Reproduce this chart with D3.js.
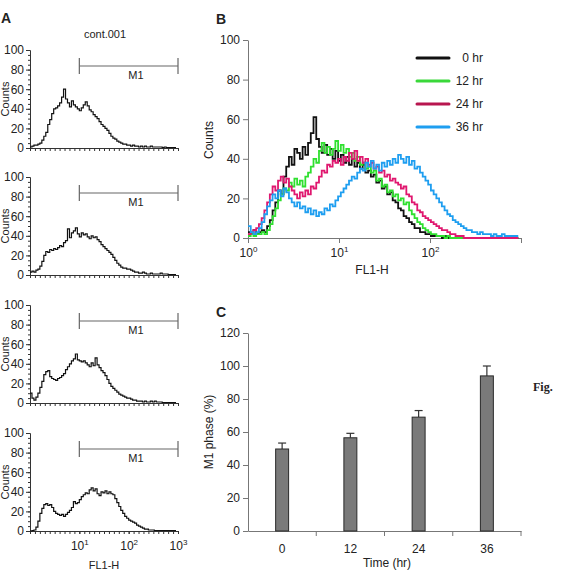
<!DOCTYPE html>
<html>
<head>
<meta charset="utf-8">
<script src="https://d3js.org/d3.v7.min.js"></script>
<style>
  body { margin: 0; background: #fff; }
  svg { display: block; font-family: Arial, "Liberation Sans", sans-serif; }
</style>
</head>
<body>
<svg width="565" height="574"></svg>
<script>
  // ---- data ----
  // panel A: counts per FL1-H channel, one channel every 0.04 decade from 10^0
  const stepA = 0.04;
  const histA1 = [1,2,3,3,4,5,8,12,16,24, 29,35,40,41,43,46,52,60,50,46, 42,48,44,42,40,38,41,44,47,43,
    39,37,34,32,30,27,24,22,20,18, 15,12,10,9,7,6,5,4,4,3, 3,2,3,2,2,1,2,1,2,1, 1,2,1,1,1,1,1,0.5,1,0.5, 0.5,0.5,0.5,0.5,0.5];
  const histA2 = [3,4,3,5,6,9,14,20,24,23, 26,25,27,26,28,30,29,33,35,47, 38,43,45,48,42,39,43,41,42,39,
    37,40,38,39,36,34,31,29,27,25, 23,21,18,15,12,10,8,7,7,6, 6,5,4,3,3,2,2,3,2,1, 1,2,1,1,1,1,2,1,1,1, 0.5,0.5,0.5,0.5,0.5];
  const histA3 = [10,5,3,6,10,16,22,29,32,33, 27,25,24,23,25,26,28,30,34,37, 40,43,45,50,44,43,42,43,41,39,
    37,41,38,46,39,36,33,31,28,24, 20,17,15,13,11,9,8,7,6,5, 5,4,3,3,2,2,2,1,2,1, 1,2,1,2,1,1,1,0.5,0.5,0.5, 0.5,0.5,0.5,0.5,0.5];
  const histA4 = [0,0.5,1,4,10,18,23,27,28,26, 27,24,20,18,17,16,17,15,17,19, 21,24,30,28,29,32,35,37,39,38,
    42,44,41,43,38,36,40,39,41,38, 40,38,37,33,29,25,21,18,15,13, 11,10,9,8,6,5,4,3,2,2, 1,1,1,0.5,0.5,0.5,0.5,0.5,0.5,0.5, 0.5,0.5,0.5,0.5,0.5];
  const titleA = "cont.001";
  const gateM1 = [10, 1000];

  // panel B: overlay, one channel every 0.03 decade
  const stepB = 0.03;
  const histB0 = [3,2,4,2,3,4,3,6,9,14, 18,24,22,31,36,41,37,45,43,40, 46,42,48,53,61,50,46,43,47,42,
    45,40,44,39,42,38,41,37,40,36, 38,35,37,33,34,31,32,28,29,25, 26,22,23,19,18,15,14,11,10,8,
    7,5,5,3,3,2,2,1,1,1, 1,0,1,0,0,0,0,0,0,0, 0,0,0,0,0,0,0,0,0,0, 0,0,0,0,0,0,0,0,0,0];
  const histB12 = [1,2,1,2,2,3,2,4,7,11, 15,19,22,25,24,28,26,30,27,29, 26,31,33,36,40,38,44,48,43,46,
    42,45,49,44,47,43,45,41,43,39, 41,37,38,35,36,33,34,29,30,26, 27,23,24,21,22,19,20,17,18,14,
    12,10,8,7,5,4,3,2,2,1, 1,1,0,1,0,0,0,0,0,0, 0,0,0,0,0,0,0,0,0,0, 0,0,0,0,0,0,0,0,0,0];
  const histB24 = [2,3,4,5,7,10,14,18,22,26, 24,29,31,28,30,26,24,22,20,23, 21,24,22,26,25,28,31,34,33,37,
    36,39,38,40,37,41,39,43,40,44, 39,41,38,40,37,38,35,36,33,34, 31,32,29,30,28,27,25,26,22,21,
    18,17,14,13,11,10,9,8,7,6, 5,4,4,3,2,2,1,1,1,0, 0,0,0,0,0,0,0,0,0,0, 0,0,0,0,0,0,0,0,0,0];
  const histB36 = [6,3,2,3,5,8,12,16,19,22, 20,24,21,25,23,20,18,16,18,15, 16,13,15,12,14,11,13,12,15,14,
    17,16,19,21,23,25,27,29,31,30, 33,35,34,38,36,39,35,37,34,38, 36,39,37,40,38,42,40,38,41,37,
    39,35,36,33,31,29,27,24,22,20, 18,16,14,12,11,9,8,7,6,5, 4,4,3,3,2,3,2,2,2,1, 2,1,1,2,1,1,1,1,1,1];
  const seriesB = ["0 hr", "12 hr", "24 hr", "36 hr"];
  const colorsB = ["#111111", "#2fe02f", "#e0176f", "#1e9ef0"];
  const legendColorsB = ["#111111", "#3ad83a", "#b8164f", "#1e9ef0"];

  // panel C: M1 phase
  const timeLabels = ["0", "12", "24", "36"];
  const m1Phase = [49.7, 56.5, 69, 94];
  const m1Err = [3.6, 2.7, 4, 6];

  const yTicks100 = [0, 20, 40, 60, 80, 100];
  const yTicks120 = [0, 20, 40, 60, 80, 100, 120];

  // ---- drawing ----
  const svg = d3.select("svg");
  const ink = "#222";

  function styleAxis(g, color, size) {
    g.attr("font-family", null).attr("font-size", null);
    g.select(".domain").attr("stroke", color);
    g.selectAll(".tick line").attr("stroke", color);
    g.selectAll(".tick text").attr("fill", ink).attr("font-size", size);
  }
  function powLabel(sel, small) {
    sel.selectAll(".tick text").each(function(d) {
      const t = d3.select(this);
      t.text("");
      t.append("tspan").text("10");
      t.append("tspan").attr("dy", -5).attr("font-size", small).text(Math.round(Math.log10(d)));
    });
  }

  // Panel letters
  svg.append("text").attr("x", 1).attr("y", 23).attr("font-weight", "bold").attr("font-size", 14).attr("fill", ink).text("A");
  svg.append("text").attr("x", 216).attr("y", 24).attr("font-weight", "bold").attr("font-size", 14).attr("fill", ink).text("B");
  svg.append("text").attr("x", 216).attr("y", 317).attr("font-weight", "bold").attr("font-size", 14).attr("fill", ink).text("C");

  // ---- Panel A ----
  const histsA = [histA1, histA2, histA3, histA4];
  const topsA = [50, 177, 305, 433];
  const hA = 98;
  const xA = d3.scaleLog().domain([1, 1000]).range([30, 178]);
  const minorA = d3.range(0, 31).map(k => Math.pow(10, k / 10));

  svg.append("text").attr("x", 105).attr("y", 38).attr("text-anchor", "middle")
    .attr("font-size", 11).attr("fill", ink).text(titleA);

  histsA.forEach((hist, k) => {
    const top = topsA[k];
    const y = d3.scaleLinear().domain([0, 100]).range([top + hA, top]);
    const g = svg.append("g");

    g.append("g").attr("transform", "translate(30,0)")
      .call(d3.axisLeft(y).tickValues(d3.range(0, 101, 5)).tickSize(2).tickSizeOuter(0).tickFormat(""))
      .call(s => styleAxis(s, "#333", 12));
    g.append("g").attr("transform", "translate(30,0)")
      .call(d3.axisLeft(y).tickValues(yTicks100).tickSize(4).tickSizeOuter(0).tickPadding(2))
      .call(s => styleAxis(s, "#333", 12));

    g.append("g").attr("transform", `translate(0,${top + hA})`)
      .call(d3.axisBottom(xA).tickValues(minorA).tickSize(3).tickSizeOuter(0).tickFormat(""))
      .call(s => styleAxis(s, "#333", 12));
    if (k === 3) {
      g.append("g").attr("transform", `translate(0,${top + hA})`)
        .call(d3.axisBottom(xA).tickValues([10, 100, 1000]).tickSize(3).tickSizeOuter(0).tickPadding(7))
        .call(s => styleAxis(s, "#333", 12))
        .call(s => powLabel(s, 8))
        .select(".domain").remove();
    }

    g.append("text").attr("transform", `translate(9,${top + hA / 2}) rotate(-90)`)
      .attr("text-anchor", "middle").attr("font-size", 11).attr("fill", ink).text("Counts");

    // M1 gate
    const gy = top + 16;
    g.append("line").attr("x1", xA(gateM1[0])).attr("x2", xA(gateM1[1])).attr("y1", gy).attr("y2", gy)
      .attr("stroke", "#666").attr("stroke-width", 1.2);
    gateM1.forEach(v => g.append("line").attr("x1", xA(v)).attr("x2", xA(v)).attr("y1", gy - 8).attr("y2", gy + 8)
      .attr("stroke", "#666").attr("stroke-width", 1.2));
    g.append("text").attr("x", xA(140)).attr("y", gy + 13).attr("text-anchor", "middle")
      .attr("font-size", 11).attr("fill", ink).text("M1");

    const line = d3.line()
      .x((d, i) => xA(Math.pow(10, i * stepA)))
      .y(d => y(d))
      .curve(d3.curveStepAfter);
    g.append("path").datum(hist).attr("d", line)
      .attr("fill", "none").attr("stroke", "#111").attr("stroke-width", 1.2);
  });

  svg.append("text").attr("x", 104).attr("y", 569).attr("text-anchor", "middle")
    .attr("font-size", 11).attr("fill", ink).text("FL1-H");

  // ---- Panel B ----
  const xB = d3.scaleLog().domain([1, 1000]).range([248, 521]);
  const yB = d3.scaleLinear().domain([0, 100]).range([238, 40]);

  svg.append("g").attr("transform", "translate(248,0)")
    .call(d3.axisLeft(yB).tickValues(yTicks100).tickSize(5).tickSizeOuter(0).tickPadding(3))
    .call(s => styleAxis(s, "#777", 12));
  svg.append("g").attr("transform", "translate(0,238)")
    .call(d3.axisBottom(xB).tickValues([1, 10, 100, 1000]).tickSize(5).tickSizeOuter(0).tickPadding(5))
    .call(s => styleAxis(s, "#777", 12))
    .call(s => powLabel(s, 8))
    .call(s => s.selectAll(".tick text").filter(d => d === 1000).remove());

  const histsB = [histB0, histB12, histB24, histB36];
  const lineB = d3.line()
    .x((d, i) => xB(Math.pow(10, i * stepB)))
    .y(d => yB(d))
    .curve(d3.curveStepAfter);
  histsB.forEach((hist, k) => {
    svg.append("path").datum(hist).attr("d", lineB)
      .attr("fill", "none").attr("stroke", colorsB[k]).attr("stroke-width", 1.8);
  });

  svg.append("text").attr("transform", "translate(213,140) rotate(-90)").attr("text-anchor", "middle")
    .attr("font-size", 12).attr("fill", ink).text("Counts");
  svg.append("text").attr("x", 372).attr("y", 274).attr("text-anchor", "middle")
    .attr("font-size", 12).attr("fill", ink).text("FL1-H");

  const legY = d3.scalePoint().domain(seriesB).range([58, 127]);
  seriesB.forEach((s, k) => {
    svg.append("line").attr("x1", 417).attr("x2", 449).attr("y1", legY(s)).attr("y2", legY(s))
      .attr("stroke", legendColorsB[k]).attr("stroke-width", 3).attr("stroke-linecap", "round");
    svg.append("text").attr("x", 483).attr("y", legY(s) + 4).attr("text-anchor", "end")
      .attr("font-size", 12).attr("fill", ink).text(s);
  });

  // ---- Panel C ----
  const xC = d3.scaleBand().domain(timeLabels).range([248, 521]).padding(0);
  const yC = d3.scaleLinear().domain([0, 120]).range([531, 333]);

  svg.append("g").attr("transform", "translate(248,0)")
    .call(d3.axisLeft(yC).tickValues(yTicks120).tickSize(5).tickSizeOuter(0).tickPadding(3))
    .call(s => styleAxis(s, "#777", 12));
  svg.append("g").attr("transform", "translate(0,531)")
    .call(d3.axisBottom(xC).tickSize(0).tickSizeOuter(0).tickPadding(13))
    .call(s => styleAxis(s, "#777", 12));
  // separators between categories
  timeLabels.forEach(t => {
    const x = xC(t) + xC.bandwidth();
    svg.append("line").attr("x1", x).attr("x2", x).attr("y1", 531).attr("y2", 536).attr("stroke", "#777");
  });

  const bw = xC.bandwidth() * 0.19;
  const bars = svg.append("g");
  timeLabels.forEach((t, i) => {
    const cx = xC(t) + xC.bandwidth() / 2;
    bars.append("line").attr("x1", cx).attr("x2", cx).attr("y1", yC(m1Phase[i])).attr("y2", yC(m1Phase[i] + m1Err[i]))
      .attr("stroke", "#333").attr("stroke-width", 1.2);
    bars.append("line").attr("x1", cx - 4).attr("x2", cx + 4)
      .attr("y1", yC(m1Phase[i] + m1Err[i])).attr("y2", yC(m1Phase[i] + m1Err[i]))
      .attr("stroke", "#333").attr("stroke-width", 1.2);
    bars.append("rect").attr("x", cx - bw / 2).attr("y", yC(m1Phase[i]))
      .attr("width", bw).attr("height", yC(0) - yC(m1Phase[i]))
      .attr("fill", "#7a7a7a").attr("stroke", "#2a2a2a").attr("stroke-width", 1);
  });

  svg.append("text").attr("transform", "translate(213,432) rotate(-90)").attr("text-anchor", "middle")
    .attr("font-size", 12).attr("fill", ink).text("M1 phase (%)");
  svg.append("text").attr("x", 387).attr("y", 567).attr("text-anchor", "middle")
    .attr("font-size", 12).attr("fill", ink).text("Time (hr)");

  svg.append("text").attr("x", 533).attr("y", 391).attr("font-family", "'Liberation Serif', 'DejaVu Serif', serif")
    .attr("font-weight", "bold").attr("font-size", 12).attr("fill", ink).text("Fig.");
</script>
</body>
</html>
